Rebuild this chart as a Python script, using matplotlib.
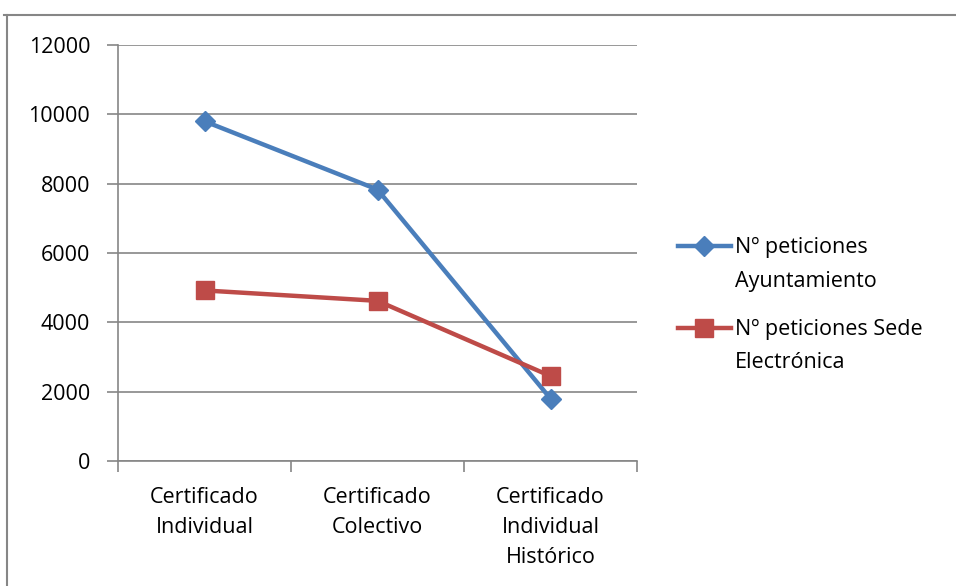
import matplotlib.pyplot as plt
from matplotlib.lines import Line2D
from matplotlib.legend_handler import HandlerLine2D

categorias = ["Certificado\nIndividual", "Certificado\nColectivo", "Certificado\nIndividual\nHistórico"]
ayuntamiento = [9800, 7830, 1800]
sede = [4920, 4620, 2450]
etiquetas = ["Nº peticiones\nAyuntamiento", "Nº peticiones Sede\nElectrónica"]

plt.rcParams['font.family'] = ['Open Sans', 'DejaVu Sans']
FS = 15.5


class HandleArriba(HandlerLine2D):
    # sube el símbolo de la leyenda a la altura de la primera línea del texto
    def create_artists(self, legend, orig_handle, xdescent, ydescent, width, height, fontsize, trans):
        arts = super().create_artists(legend, orig_handle, xdescent, ydescent, width, height, fontsize, trans)
        for a in arts:
            a.set_ydata([y + 0.85 * fontsize for y in a.get_ydata()])
        return arts


fig = plt.figure(figsize=(9.56, 5.86), dpi=100)
W, H = 956, 586
ax = fig.add_axes([118 / W, 1 - 461 / H, (637 - 118) / W, (461 - 45) / H])

x = [0.5, 1.5, 2.5]
ax.plot(x, ayuntamiento, color="#4a7ebb", lw=3.2, marker="D", ms=10, label=etiquetas[0])
ax.plot(x, sede, color="#be4b48", lw=3.2, marker="s", ms=13, label=etiquetas[1])

ax.set_xlim(0, 3)
ax.set_ylim(0, 12000)
ax.set_yticks(range(0, 12001, 2000))
ax.set_xticks([0, 1, 2, 3])
ax.set_xticklabels([])
ax.set_xticks(x, minor=True)
ax.set_xticklabels(categorias, minor=True, fontsize=FS, linespacing=1.55)
ax.tick_params(axis="x", which="minor", length=0, pad=19)
ax.tick_params(axis="x", which="major", length=8, color="#868686", width=1.2)
ax.tick_params(axis="y", length=8, color="#868686", width=1.2, labelsize=FS, pad=12)
ax.grid(axis="y", color="#868686", lw=1.2)
ax.set_axisbelow(True)
for s in ["top", "right"]:
    ax.spines[s].set_visible(False)
for s in ["left", "bottom"]:
    ax.spines[s].set_color("#868686")
    ax.spines[s].set_linewidth(1.2)

leg = ax.legend(loc="center left", bbox_to_anchor=(678 / W, 1 - 305 / H),
                bbox_transform=fig.transFigure, frameon=False, fontsize=FS,
                handlelength=2.45, labelspacing=1.25, handletextpad=0.2,
                borderpad=0, borderaxespad=0, handler_map={Line2D: HandleArriba()})
for t in leg.get_texts():
    t.set_linespacing(1.8)

# marco exterior del gráfico
fig.add_artist(Line2D([4 / W, 1], [1 - 15 / H, 1 - 15 / H], color="#868686", lw=1.5))
fig.add_artist(Line2D([7 / W, 7 / W], [0, 1 - 15 / H], color="#868686", lw=1.5))

fig.savefig("out.png", dpi=100)
